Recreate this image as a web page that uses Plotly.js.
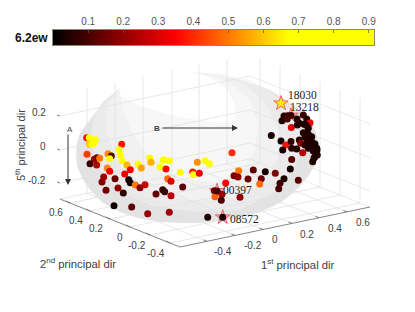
<!DOCTYPE html>
<html><head><meta charset="utf-8">
<script src="https://cdn.plot.ly/plotly-3.0.1.min.js"></script>
<style>html,body{margin:0;padding:0;background:#fff}#c{width:415px;height:312px}</style>
</head><body><div id="c"></div>
<script>
// Scatter points, read in the chart's projected view plane, with their colour value
const pointX = [86.7,89.3,95.3,89.3,92,94.3,87,94.3,97,99.7,90,96.7,108,111.3,109.7,121.7,119,120.3,122,127,130.3,107.3,109.7,124.7,103.7,102,115,128.7,130.3,106,118,123.3,135.3,140,145,114,131.7,147.7,169.3,156,162.7,164.7,171,182.7,167.7,171,138,141.3,149.7,151,160,163.3,169.3,166,180.3,192.7,193.3,199.3,197.3,205.3,209.3,232,238.7,253.3,265.3,275.3,234,238,248,261.3,225.7,259.7,284,280,278.7,298.3,214.3,222,215,221.3,240,207.7,271.3,281,285.7,282.7,291,291.3,291.7,290.3,282,284,288,287.3,297.3,299.3,303.3,306.7,304,310,308.3,303.3,308.3,311.7,299.3,300.7,305,310,315,311.7,316.7,313.3,308.3,302.7,296.7,291.7,315,312.7,317.3,222.7,291,217,297,306,307,312,314,317,305];
const pointY = [137.7,137.7,139.7,144,144,142.7,154.3,159.3,157.7,158.3,163.7,165,153.7,156,158.7,144.3,149.7,155,160.7,165,169.7,168,171.3,174,177,182,178.7,179.7,182.7,190.3,188,193,185,187.7,184.7,205.7,207,213.7,212.3,194,189.7,191.7,195.7,187,178.7,181.3,164,168,158,162.3,167,159.7,160.7,169,172.3,172,174.7,173.3,162.3,160.7,163.7,152.7,170.7,170,171.7,173.3,175.7,177,179,178.7,183,184,178.7,183.3,188.7,180.3,190.7,194.3,196.7,200.3,197.3,217.3,135.5,141,145,150,141.5,127.5,159.5,169,120.7,116,115.7,119,125,123.3,115,119,124.3,122.7,128.3,132.7,134.3,136.7,140,143.3,145,143.3,144,146.7,148.3,151,148.3,152.7,149,148.3,156.7,161.7,155,217.3,115.5,191,119,125,140,142,158,150,137];
const pointValue = [.36,.85,.85,.6,.85,.85,.42,.22,.15,.5,.08,.24,.52,.1,.85,.37,.85,.85,.68,.58,.35,.52,.33,.33,.22,.18,.15,.03,.03,.15,.2,.07,.5,.18,.28,.02,.12,.2,.22,.14,.08,.08,.25,.13,.48,.3,.85,.55,.66,.57,.7,.85,.85,.36,.85,.38,.85,.32,.53,.7,.85,.4,.5,.13,.03,.17,.17,.2,.15,.15,.35,.48,.04,.08,.1,.12,.15,.22,.47,.1,.2,.04,.03,.03,.37,.03,.07,.3,.12,.03,.04,.05,.06,.1,.05,.04,.08,.04,.05,.33,.04,.05,.04,.04,.05,.18,.05,.04,.03,.04,.03,.05,.04,.25,.05,.06,.03,.04,.04,.03,.08,.1,.05,.04,.05,.04,.04,.04,.05];
// Highlighted observations
const starX = [281,291,217,222.7];
const starY = [103.3,115.5,191,217.3];
const starFill = ['#ffee00','rgba(240,96,106,0.3)','rgba(240,96,106,0.3)','rgba(240,96,106,0.3)'];
const labelText = ['18030','13218','00397','08572'];
const labelX = [302,304,237,244];
const labelY = [95,107,190,219];
// Colour bar
const cbarTicks = [.1,.2,.3,.4,.5,.6,.7,.8,.9];
const cbarMax = .915;
const cbarRamp = [0,.03,.06,.09,.12,.15,.18,.21,.24,.27,.3,.33,.36,.39,.42,.45,.48,.51,.54,.57,.6,.63,.66,.69,.72,.75,.78,.81,.84,.87,.9,.915];
const cbarScale = [[0,'#000000'],[.38,'#ff0000'],[.73,'#ffff00'],[1,'#ffff00']];
// 3D box, projected
const xTickLabels = ['-0.4','-0.2','0','0.2','0.4','0.6'];
const xTickLabelX = [223,253,275,307,335,363];
const xTickLabelY = [251,245,239,234,228,222];
const yTickLabels = ['0.6','0.4','0.2','0','-0.2','-0.4'];
const yTickLabelX = [56,76,96,120,137,156];
const yTickLabelY = [212,220,228,237,245,253];
const zTickLabels = ['0.2','0','-0.2'];
const zTickLabelY = [112,146,180];
// Corners: left, front, right, back of the floor
const floorX = [60,180,370,250];
const floorY = [199,247,207,159];
const wallHeight = 105;
const zLevels = [83,49,16];
const xSteps = [27,55,83,112,139,167];
const ySteps = [10,30,50,70,90,110];
// Shell outlines: outer contour, then the inner edges of the shading layers
const outerX = [190,205,222,240,258,270,281,292,303,311,316,319,318,315,309,302,293,283,272,260,246,232,216,200,180,160,137,120,103,90,82,77,76,77,80,90,103,120];
const outerY = [72,73,76,80,85,90,97,104,113,122,132,147,157,165,175,184,193,201,207,212,216,219,221,223,223,222,218,212,203,190,178,166,153,143,133,120,102,88];
const holeX = [119,120,128,143,160,176,193,210,225,233,236,233,227,218,206,190];
const holeY = [91,95,100,107,112,116,119,122,123,122,113,100,90,82,76,72];
const innerAX = [120,122,132,150,180,215,240,255,258,250,236,225,206,190];
const innerAY = [88,108,132,160,178,182,172,150,122,100,88,80,75,72];
const innerBX = [120,108,106,118,145,185,230,262,278,278,264,244,225,206,190];
const innerBY = [88,104,130,162,188,200,200,185,158,128,102,84,77,73,72];
const innerCX = [120,96,90,96,118,150,195,240,275,296,302,292,272,250,222,190];
const innerCY = [88,112,135,165,190,205,212,210,192,165,135,112,92,80,74,72];
const poly=(a,b)=>a.concat(b);
const [lx,fx,rx,bx] = floorX, [ly,fy,ry,by] = floorY;
let gx=[],gy=[];
const seg=(a,b,c,d)=>{gx.push(a,c,null);gy.push(b,d,null);};
const slopeL=(by-ly)/(bx-lx), slopeR=(ry-by)/(rx-bx);
xSteps.forEach(s=>{
  const xx=lx+s, yy=ly+s*slopeL;
  seg(xx,yy,xx,yy-wallHeight);
  seg(xx,yy,xx+(fx-lx),yy+(fy-ly));
});
ySteps.forEach(s=>{
  const xx=bx+s, yy=by+s*slopeR;
  seg(xx,yy,xx,yy-wallHeight);
  seg(xx,yy,xx-(bx-lx),yy-(by-ly));
});
zLevels.forEach(h=>{
  seg(lx,ly-h,bx,by-h); seg(bx,by-h,rx,ry-h);
});
seg(lx,ly,bx,by); seg(bx,by,rx,ry);
let ax=[],ay=[];
const aseg=(a,b,c,d)=>{ax.push(a,c,null);ay.push(b,d,null);};
aseg(lx,ly,fx,fy); aseg(fx,fy,rx,ry);
ySteps.forEach(s=>{const p=[lx+s,ly+s*(fy-ly)/(fx-lx)]; aseg(p[0],p[1],p[0]-4,p[1]-2);});
xSteps.forEach(s=>{const p=[fx+s,fy+s*slopeL]; aseg(p[0],p[1],p[0]+(lx-fx)*.03,p[1]+(ly-fy)*.03);});
zLevels.forEach(h=>{aseg(lx-3,ly-h-1,lx,ly-h);});

const fillTrace=(x,y,c)=>({type:'scatter',mode:'lines',x,y,fill:'toself',fillcolor:c,line:{width:0},hoverinfo:'skip'});
const traces=[
  fillTrace(poly(outerX,holeX),poly(outerY,holeY),'rgba(0,0,0,0.03)'),
  fillTrace(poly(outerX,innerAX),poly(outerY,innerAY),'rgba(0,0,0,0.025)'),
  fillTrace(poly(outerX,innerBX),poly(outerY,innerBY),'rgba(0,0,0,0.025)'),
  fillTrace(poly(outerX,innerCX),poly(outerY,innerCY),'rgba(0,0,0,0.03)'),
  {type:'scatter',mode:'lines',x:gx,y:gy,line:{color:'#e2e2e2',width:.8},hoverinfo:'skip'},
  {type:'scatter',mode:'lines',x:ax,y:ay,line:{color:'#666',width:.8},hoverinfo:'skip'},
  {type:'scatter',mode:'markers',x:starX,y:starY,hoverinfo:'skip',
    marker:{symbol:'star',size:11,color:starFill,line:{color:'#f0606a',width:1}}},
  {type:'scatter',mode:'markers',x:pointX,y:pointY,hoverinfo:'skip',
    marker:{size:7,color:pointValue,cmin:0,cmax:cbarMax,colorscale:cbarScale,line:{width:0}}},
  {type:'heatmap',xaxis:'x2',yaxis:'y2',x:cbarRamp,y:[0,1],z:[cbarRamp,cbarRamp],zmin:0,zmax:cbarMax,zsmooth:'best',
    colorscale:cbarScale,showscale:false,hoverinfo:'skip'},
];
const base={xref:'x',yref:'y',showarrow:false};
const ann=[];
const txt=(t,x,y,size,extra)=>ann.push(Object.assign({},base,{text:t,x,y,font:{family:'Liberation Sans',size,color:'#404040'}},extra||{}));
xTickLabels.forEach((t,i)=>txt(t,xTickLabelX[i],xTickLabelY[i],10));
yTickLabels.forEach((t,i)=>txt(t,yTickLabelX[i],yTickLabelY[i],10));
zTickLabels.forEach((t,i)=>txt(t,48,zTickLabelY[i],10,{xanchor:'right'}));
txt('1<sup>st</sup> principal dir',298,264,11.3);
txt('2<sup>nd</sup> principal dir',78,263,11.3);
txt('5<sup>th</sup> principal dir',20,145,11,{textangle:-90});
txt('<b>6.2ew</b>',50,38,12,{xanchor:'right',font:{family:'Liberation Sans',size:12,color:'#111'}});
txt('A',70,129,8);
txt('<b>B</b>',157,128,8);
labelText.forEach((t,i)=>ann.push(Object.assign({},base,{text:t,x:labelX[i],y:labelY[i],font:{family:'Liberation Serif',size:11.5,color:'#222'}})));
const arrow=(x0,y0,x1,y1)=>ann.push({xref:'x',yref:'y',axref:'x',ayref:'y',x:x1,y:y1,ax:x0,ay:y0,text:'',showarrow:true,arrowhead:2,arrowsize:1.2,arrowwidth:1,arrowcolor:'#333'});
arrow(68,133,68,185);
arrow(161,128,238,128);

Plotly.newPlot('c',traces,{
  width:415,height:312,margin:{l:0,r:0,t:0,b:0,autoexpand:false},showlegend:false,
  paper_bgcolor:'#fff',plot_bgcolor:'rgba(0,0,0,0)',
  xaxis:{domain:[0,1],range:[0,415],visible:false,fixedrange:true},
  yaxis:{domain:[0,1],range:[312,0],visible:false,fixedrange:true},
  xaxis2:{domain:[53/415,374/415],range:[0,cbarMax],anchor:'y2',side:'top',tickvals:cbarTicks,ticktext:cbarTicks.map(String),
    ticks:'inside',ticklen:3,tickwidth:.7,tickcolor:'#555',showline:true,mirror:true,linecolor:'#8a8a70',linewidth:1,showgrid:false,zeroline:false,
    tickfont:{family:'Liberation Sans',size:10,color:'#555'},fixedrange:true},
  yaxis2:{domain:[1-45/312,1-30/312],range:[0,1],anchor:'x2',showticklabels:false,ticks:'',showgrid:false,zeroline:false,showline:true,mirror:true,linecolor:'#8a8a70',linewidth:1,fixedrange:true},
  annotations:ann
},{displayModeBar:false,staticPlot:true});
</script></body></html>
